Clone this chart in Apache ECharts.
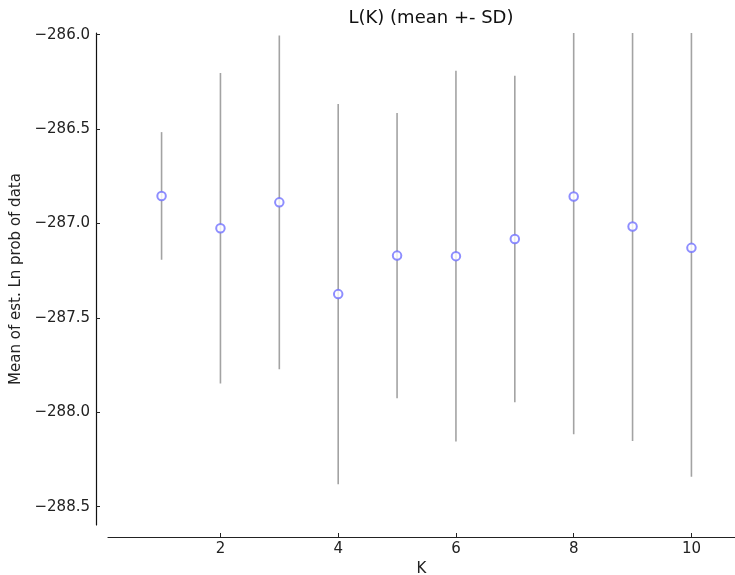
<!DOCTYPE html>
<html>
<head>
<meta charset="utf-8">
<script src="https://cdn.jsdelivr.net/npm/echarts@6/dist/echarts.min.js"></script>
<style>
html,body{margin:0;padding:0;background:#fff;}
#chart{width:735px;height:575px;}
</style>
</head>
<body>
<div id="chart"></div>
<script>
// Data
var kValues = [1, 2, 3, 4, 5, 6, 7, 8, 9, 10];
var meanLnP = [-286.854, -287.025, -286.888, -287.374, -287.170, -287.173, -287.082, -286.857, -287.016, -287.129];
var sdLnP   = [0.338, 0.822, 0.884, 1.007, 0.755, 0.982, 0.865, 1.259, 1.136, 1.212];
var xTicks = [2, 4, 6, 8, 10];
var yTicks = [-288.5, -288.0, -287.5, -287.0, -286.5, -286.0];

var Y_MIN = -288.597, Y_MAX = -285.991;
var X_MIN = 0.09, X_MAX = 10.74;

var chart = echarts.init(document.getElementById('chart'), null, {renderer: 'canvas'});

var errData = kValues.map(function (k, i) { return [k, meanLnP[i], sdLnP[i]]; });
var ptData = kValues.map(function (k, i) { return [k, meanLnP[i]]; });

function fmt(v) { return v.toFixed(1).replace('-', '\u2212'); }

var font = 'DejaVu Sans';

chart.setOption({
  animation: false,
  backgroundColor: '#ffffff',
  title: {
    text: 'L(K) (mean +- SD)',
    left: 426, top: 4, textAlign: 'center',
    textStyle: {fontFamily: font, fontSize: 18, fontWeight: 'normal', color: '#111'}
  },
  grid: {left: 108, top: 33, right: 0, bottom: 50, containLabel: false, outerBoundsMode: 'none'},
  xAxis: {
    type: 'value', min: X_MIN, max: X_MAX, offset: 12,
    name: 'K', nameLocation: 'middle', nameGap: 21,
    nameTextStyle: {fontFamily: font, fontSize: 15, color: '#222'},
    axisLine: {show: true, onZero: false, lineStyle: {color: '#222', width: 1.2}},
    axisTick: {show: true, inside: true, length: 4, customValues: xTicks, lineStyle: {color: '#222'}},
    axisLabel: {customValues: xTicks, fontFamily: font, fontSize: 15, color: '#222', margin: 5,
      formatter: function (v) { return String(v); }},
    splitLine: {show: false}
  },
  yAxis: {
    type: 'value', min: Y_MIN, max: Y_MAX, offset: 12,
    name: 'Mean of est. Ln prob of data', nameLocation: 'middle', nameGap: 67, nameRotate: 90,
    nameTextStyle: {fontFamily: font, fontSize: 15, color: '#222'},
    axisLine: {show: true, onZero: false, lineStyle: {color: '#111', width: 1.2}},
    axisTick: {show: true, inside: true, length: 4, customValues: yTicks, lineStyle: {color: '#222'}},
    axisLabel: {customValues: yTicks, fontFamily: font, fontSize: 15, color: '#222', margin: 6,
      formatter: fmt},
    splitLine: {show: false}
  },
  series: [
    {
      type: 'custom',
      clip: true,
      data: errData,
      encode: {x: 0, y: 1},
      renderItem: function (params, api) {
        var k = api.value(0), m = api.value(1), s = api.value(2);
        var top = Math.min(m + s, Y_MAX);
        var bot = Math.max(m - s, Y_MIN);
        var p1 = api.coord([k, top]);
        var p2 = api.coord([k, bot]);
        return {
          type: 'line',
          shape: {x1: p1[0], y1: p1[1], x2: p2[0], y2: p2[1]},
          style: {stroke: '#a3a3a3', lineWidth: 1.6}
        };
      },
      z: 2
    },
    {
      type: 'scatter',
      data: ptData,
      symbol: 'emptyCircle',
      symbolSize: 8.5,
      itemStyle: {color: '#7272ff', borderColor: '#7272ff', borderWidth: 1},
      z: 3
    }
  ]
});
</script>
</body>
</html>
